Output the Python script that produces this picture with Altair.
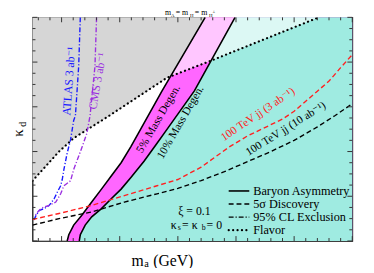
import altair as alt
import pandas as pd

FONT = "Times New Roman, Liberation Serif, DejaVu Serif, serif"
W, H = 326, 228
XMIN, XMAX = 2500, 30000

# Baryon asymmetry (5% and 10% mass degeneracy) boundaries
m_5pct = [5480, 5620, 6040, 6740, 7590, 8430, 9270, 10120, 10960, 11670, 13640, 17350]
k_5pct = [0.0, 0.028, 0.071, 0.115, 0.174, 0.232, 0.291, 0.350, 0.422, 0.488, 0.671, 1.0]
m_10pct = [6520, 6610, 7030, 7590, 8430, 9270, 10120, 10960, 12090, 13210, 13910, 16420, 19920]
k_10pct = [0.0, 0.028, 0.071, 0.108, 0.145, 0.189, 0.232, 0.284, 0.357, 0.437, 0.488, 0.671, 1.0]
# Flavor bound
m_flavor = [2500, 4780, 6040, 9000, 14060, 17690, 27130]
k_flavor = [0.269, 0.400, 0.460, 0.557, 0.730, 0.803, 1.0]
# LHC exclusions
m_atlas = [6610, 6470, 6190, 6040, 5770, 5480, 5200, 5060, 4920, 4630, 4360, 3930, 3510, 3090, 2810, 2610]
k_atlas = [1.0, 0.781, 0.561, 0.539, 0.452, 0.393, 0.320, 0.276, 0.247, 0.218, 0.189, 0.159, 0.145, 0.137, 0.115, 0.093]
m_cms = [8010, 7870, 7450, 7170, 6740, 6470, 6040, 5770, 5200, 4920, 4500, 3930, 3510, 3230, 2950, 2670]
k_cms = [1.0, 0.781, 0.561, 0.481, 0.417, 0.379, 0.320, 0.269, 0.247, 0.211, 0.174, 0.159, 0.152, 0.145, 0.130, 0.108]
# 100 TeV discovery
m_red = [2500, 4780, 7590, 10400, 13210, 15000, 17000, 19400, 21000, 22200, 24000, 25000, 26000, 27000, 28000, 29000, 30000]
k_red = [0.096, 0.123, 0.159, 0.203, 0.247, 0.275, 0.330, 0.420, 0.470, 0.500, 0.545, 0.580, 0.625, 0.670, 0.715, 0.775, 0.833]
m_blk = [2500, 4780, 7590, 10400, 13210, 15000, 17000, 19000, 21000, 23000, 25000, 27000, 28500, 30000]
k_blk = [0.071, 0.100, 0.130, 0.174, 0.211, 0.235, 0.270, 0.310, 0.355, 0.400, 0.450, 0.510, 0.560, 0.614]

x_major = [5000, 10000, 15000, 20000, 25000, 30000]
x_minor = [3000, 4000, 6000, 7000, 8000, 9000, 11000, 12000, 13000, 14000, 16000, 17000, 18000, 19000,
           21000, 22000, 23000, 24000, 26000, 27000, 28000, 29000]
y_major = [0.0, 0.2, 0.4, 0.6, 0.8, 1.0]
y_minor = [0.05, 0.1, 0.15, 0.25, 0.3, 0.35, 0.45, 0.5, 0.55, 0.65, 0.7, 0.75, 0.85, 0.9, 0.95]

CYAN = "#9FEBE1"
MAGENTA = "#FF66FF"
GRAY_BASE = "#909090"
OVERLAY = 0.63

xs = alt.Scale(domain=[XMIN, XMAX], nice=False, zero=False)
ys = alt.Scale(domain=[0, 1], nice=False, zero=False)

x_axis = alt.Axis(values=x_major, ticks=False, domain=False, grid=False, labelFont=FONT,
                  labelFontSize=11.5, labelColor="black", labelPadding=3, labelFlush=False,
                  format="d", title="")
y_axis = alt.Axis(values=y_major, ticks=False, domain=False, grid=False, labelFont=FONT,
                  labelFontSize=12.5, labelColor="black", labelPadding=4, format=".1~f", title="")


def X(f, axis=False):
    if axis:
        return alt.X(f, type="quantitative", scale=xs, axis=x_axis)
    return alt.X(f, type="quantitative", scale=xs, axis=None)


def Y(f, axis=False):
    if axis:
        return alt.Y(f, type="quantitative", scale=ys, axis=y_axis)
    return alt.Y(f, type="quantitative", scale=ys, axis=None)


def df(m, k):
    return pd.DataFrame({"m": m, "k": k, "i": list(range(len(m)))})


d5 = df(m_5pct, k_5pct)
d10 = df(m_10pct, k_10pct)
dfl = df(m_flavor, k_flavor)

layers = []
# gray excluded-by-flavor region (will be lightened by overlay)
layers.append(alt.Chart(dfl).mark_area(color=GRAY_BASE, opacity=1).encode(
    x=X("m", True), y=Y("k", True), y2=alt.datum(1)))
# magenta band (from 5% line rightwards)
layers.append(alt.Chart(d5).mark_area(orient="horizontal", color=MAGENTA, opacity=1).encode(
    y=Y("k"), x=X("m"), x2=alt.datum(XMAX)))
# cyan region (from 10% line rightwards)
layers.append(alt.Chart(d10).mark_area(orient="horizontal", color=CYAN, opacity=1).encode(
    y=Y("k"), x=X("m"), x2=alt.datum(XMAX)))
# lighten region above flavor line
layers.append(alt.Chart(dfl).mark_area(color="white", opacity=OVERLAY).encode(
    x=X("m"), y=Y("k"), y2=alt.datum(1)))


def line(d, color, dash=None, width=1.4, cap="butt"):
    kw = dict(color=color, strokeWidth=width, strokeCap=cap, clip=True)
    if dash:
        kw["strokeDash"] = dash
    return alt.Chart(d).mark_line(**kw).encode(x=X("m"), y=Y("k"), order="i:Q")


layers.append(line(d5, "black", width=1.6))
layers.append(line(d10, "black", width=1.6))
layers.append(line(dfl, "black", dash=[0.1, 4.4], width=2.2, cap="round"))
layers.append(line(df(m_atlas, k_atlas), "#1A1AFF", dash=[5, 2, 1.2, 2], width=1.4))
layers.append(line(df(m_cms, k_cms), "#9B30E0", dash=[5, 2, 1.2, 2], width=1.4))
layers.append(line(df(m_red, k_red), "#FF2020", dash=[5, 3], width=1.4))
layers.append(line(df(m_blk, k_blk), "black", dash=[5, 3], width=1.4))


def dtext(t, m, k, size, color, angle):
    d = pd.DataFrame({"t": [t], "m": [m], "k": [k]})
    return alt.Chart(d).mark_text(font=FONT, fontSize=size, color=color, angle=angle,
                                  align="center", baseline="middle").encode(
        text="t:N", x=X("m"), y=Y("k"))


layers.append(dtext("ATLAS 3 ab⁻¹", 5620, 0.715, 12, "#1A1AFF", 274))
layers.append(dtext("CMS 3 ab⁻¹", 8070, 0.715, 12, "#9B30E0", 280))
layers.append(dtext("5% Mass Degen.", 13350, 0.545, 11.5, "black", 300))
layers.append(dtext("10% Mass Degen.", 15250, 0.530, 11.5, "black", 300))
layers.append(dtext("100 TeV jj (3 ab⁻¹)", 21900, 0.565, 11.5, "#FF2020", 326))
layers.append(dtext("100 TeV jj (10 ab⁻¹)", 24300, 0.500, 11.5, "black", 328))


def ptext(t, x, y, size, color="black", angle=0, align="left", baseline="middle"):
    d = pd.DataFrame({"t": [t]})
    return alt.Chart(d).mark_text(font=FONT, fontSize=size, color=color, angle=angle,
                                  align=align, baseline=baseline).encode(
        text="t:N", x=alt.value(x), y=alt.value(y))


# xi / kappa annotation
layers.append(ptext("ξ = 0.1", 165, 198, 12, align="center"))
layers.append(ptext("κ", 141, 211.5, 12))
layers.append(ptext("s", 148, 214.5, 8))
layers.append(ptext("= κ", 152.5, 211.5, 12))
layers.append(ptext("b", 172.5, 214.5, 8))
layers.append(ptext("= 0", 177.5, 211.5, 12))

# legend
leg_rows = [177, 190.3, 203.7, 217]
leg_labels = ["Baryon Asymmetry", "5σ Discovery", "95% CL Exclusion", "Flavor"]
leg_dash = [None, [5, 3], [5, 2, 1.2, 2], [0.1, 4.4]]
for yy, lab, dsh in zip(leg_rows, leg_labels, leg_dash):
    kw = dict(color="black", strokeWidth=1.6 if dsh is None else 1.4)
    if dsh:
        kw["strokeDash"] = dsh
    if lab == "Flavor":
        kw["strokeWidth"] = 2.2
        kw["strokeCap"] = "round"
    layers.append(alt.Chart(pd.DataFrame({"a": [0]})).mark_rule(**kw).encode(
        x=alt.value(200), x2=alt.value(221), y=alt.value(yy)))
    layers.append(ptext(lab, 225, yy, 12.5))

# axis titles and top label
layers.append(ptext("κ", -15, 118, 15, angle=270, align="center"))
layers.append(ptext("d", -10, 109, 10, angle=270, align="center"))
layers.append(ptext("m", 101, 248, 16))
layers.append(ptext("a", 114, 252, 10.5))
layers.append(ptext("(GeV)", 123, 248, 16))
layers.append(ptext("m", 135, -2.5, 8, baseline="alphabetic"))
layers.append(ptext("A", 141.2, -0.8, 5, baseline="alphabetic"))
layers.append(ptext("= m", 146, -2.5, 8, baseline="alphabetic"))
layers.append(ptext("H", 160.5, -0.8, 5, baseline="alphabetic"))
layers.append(ptext("= m", 165.5, -2.5, 8, baseline="alphabetic"))
layers.append(ptext("H", 180, -0.8, 5, baseline="alphabetic"))
layers.append(ptext("±", 183.6, -4, 5, baseline="alphabetic"))

# inward ticks on all four sides
TM, TN = 5, 3
for vals, L in ((x_major, TM), (x_minor, TN)):
    d = pd.DataFrame({"v": vals})
    layers.append(alt.Chart(d).mark_rule(color="#333333", strokeWidth=1).encode(
        x=X("v"), y=alt.value(H), y2=alt.value(H - L)))
    layers.append(alt.Chart(d).mark_rule(color="#333333", strokeWidth=1).encode(
        x=X("v"), y=alt.value(0), y2=alt.value(L)))
for vals, L in ((y_major, TM), (y_minor, TN)):
    d = pd.DataFrame({"v": vals})
    layers.append(alt.Chart(d).mark_rule(color="#333333", strokeWidth=1).encode(
        y=Y("v"), x=alt.value(0), x2=alt.value(L)))
    layers.append(alt.Chart(d).mark_rule(color="#333333", strokeWidth=1).encode(
        y=Y("v"), x=alt.value(W), x2=alt.value(W - L)))

chart = alt.layer(*layers).properties(
    width=W, height=H,
    padding={"left": 25, "top": 7, "right": 14, "bottom": 25},
    autosize="none",
).configure_view(stroke="black", strokeWidth=1.2)

chart.save("out.html", embed_options={"renderer": "svg", "actions": False})
